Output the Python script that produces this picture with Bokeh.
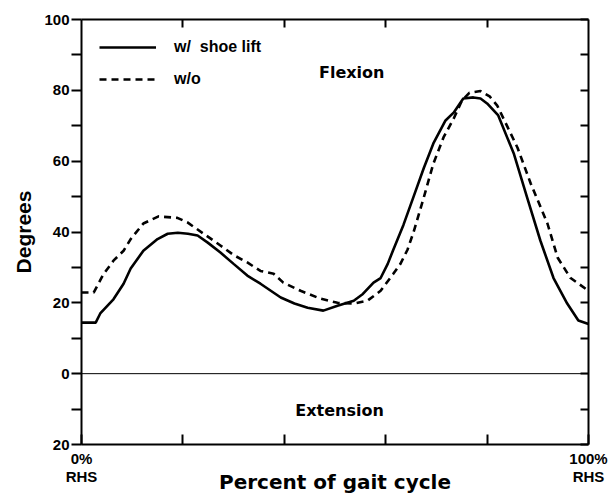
from bokeh.plotting import figure
from bokeh.models import Range1d, LinearAxis, FixedTicker, Span, Label
from bokeh.embed import file_html
from bokeh.resources import INLINE

# ---- data ----
with_x = [0, 2.8, 3.7, 6.3, 8.3, 9.7, 12.2, 15, 17, 19, 21, 22.9, 24.9, 27.4, 30,
          32.7, 35.3, 39.3, 42, 44.6, 47.7, 50.5, 53.7, 55.5, 57.6, 59, 60.4, 61.5,
          63.5, 65.5, 67.5, 69.4, 71.8, 73.4, 75.3, 77.3, 78.7, 80, 82.2, 85.3, 87.9,
          90.5, 93.1, 95.8, 98, 100]
with_y = [14.4, 14.4, 17, 21, 25.4, 29.7, 34.7, 38, 39.5, 39.8, 39.5, 39, 37, 34.2, 31,
          27.7, 25.4, 21.5, 19.8, 18.6, 17.8, 19.2, 20.6, 22.5, 25.7, 27, 31, 35,
          42, 50, 58, 65, 71.5, 73.7, 77.7, 78, 77.7, 76.3, 72.9, 62, 49.7,
          37.6, 27, 19.8, 15, 14]

without_x = [0, 2.4, 4.3, 6.3, 8.3, 9.7, 12.2, 15.2, 18.9, 20.9, 24.1, 27.4, 30, 32.7,
             35.3, 37.9, 39.8, 43.2, 47.1, 50.5, 53.7, 56.4, 59, 61.5, 62.9, 64.3, 65.5,
             67.5, 69.4, 71.4, 73.4, 75, 76.5, 78.7, 80.5, 82, 86, 88.6, 91.9, 93.9,
             96.4, 100]
without_y = [22.9, 22.9, 28, 31.9, 34.7, 38, 42.4, 44.4, 44, 42.7, 39.5, 36.2, 33.5, 31.4,
             29, 28.2, 25.7, 23.4, 21.2, 20, 19.8, 20.6, 23.4, 28.2, 31, 35, 40,
             49.7, 59.3, 66.7, 72, 77, 79.3, 79.8, 78.3, 75.7, 63.8, 53.7, 42.4, 32.8,
             27.1, 23.4]

series_names = ["w/  shoe lift", "w/o"]

x_ticks = [0, 20, 40, 60, 80, 100]
x_tick_labels = {0: "0%\nRHS", 100: "100%\nRHS"}
top_ticks = [20, 40, 60, 80]
y_ticks = [-20, -10, 0, 10, 20, 30, 40, 50, 60, 70, 80, 90, 100]
y_tick_labels = {-20: "20", 0: "0", 20: "20", 40: "40", 60: "60", 80: "80", 100: "100"}

region_names = ["Flexion", "Extension"]
x_title = "Percent of gait cycle"
y_title = "Degrees"

FONT = "Liberation Sans"
WIDE = "DejaVu Sans"

p = figure(width=608, height=497, x_range=Range1d(0, 100), y_range=Range1d(-20, 100),
           output_backend="svg", toolbar_location=None,
           min_border_left=81, min_border_right=20, min_border_top=19, min_border_bottom=53)
p.grid.visible = False
p.outline_line_color = None
p.background_fill_color = "white"
p.border_fill_color = "white"

# bottom axis
xa = p.xaxis[0]
xa.ticker = FixedTicker(ticks=x_ticks)
xa.major_label_overrides = {t: x_tick_labels.get(t, "") for t in x_ticks}
xa.major_tick_in = 10
xa.major_tick_out = 0
xa.minor_tick_line_color = None
xa.axis_line_width = 2
xa.major_tick_line_width = 2
xa.major_label_standoff = 5
xa.major_label_text_line_height = 1.1
xa.major_label_text_font = FONT
xa.major_label_text_font_style = "bold"
xa.major_label_text_font_size = "15px"
xa.major_label_text_color = "black"
xa.axis_label = x_title
xa.axis_label_text_font = WIDE
xa.axis_label_text_font_style = "bold"
xa.axis_label_text_font_size = "20px"
xa.axis_label_text_color = "black"
xa.axis_label_standoff = -18

# left axis
ya = p.yaxis[0]
ya.ticker = FixedTicker(ticks=y_ticks)
ya.major_label_overrides = {t: y_tick_labels.get(t, "") for t in y_ticks}
ya.major_tick_in = 0
ya.major_tick_out = 10
ya.minor_tick_line_color = None
ya.axis_line_width = 2
ya.major_tick_line_width = 2
ya.major_label_standoff = 2
ya.major_label_text_font = FONT
ya.major_label_text_font_style = "bold"
ya.major_label_text_font_size = "15px"
ya.major_label_text_color = "black"
ya.axis_label = y_title
ya.axis_label_text_font = FONT
ya.axis_label_text_font_style = "bold"
ya.axis_label_text_font_size = "21px"
ya.axis_label_text_color = "black"
ya.axis_label_standoff = 6

# right axis
ra = LinearAxis(ticker=FixedTicker(ticks=y_ticks), major_tick_in=8, major_tick_out=0,
                minor_tick_line_color=None, axis_line_width=2, major_tick_line_width=2,
                major_label_text_font_size="0px", major_label_text_color=None)
p.add_layout(ra, "right")

# top axis
ta = LinearAxis(ticker=FixedTicker(ticks=top_ticks), major_tick_in=8, major_tick_out=0,
                minor_tick_line_color=None, axis_line_width=2, major_tick_line_width=2,
                major_label_text_font_size="0px", major_label_text_color=None)
p.add_layout(ta, "above")

# zero line
p.add_layout(Span(location=0, dimension="width", line_color="black", line_width=1))

# curves
p.line(with_x, with_y, line_color="black", line_width=2.6, legend_label=series_names[0])
p.line(without_x, without_y, line_color="black", line_width=2.6, line_dash="7 5",
       legend_label=series_names[1])

lg = p.legend[0]
lg.location = "top_left"
lg.margin = 18
lg.padding = 8
lg.spacing = 12
lg.glyph_width = 57
lg.glyph_height = 20
lg.label_height = 20
lg.label_standoff = 18
lg.border_line_color = None
lg.background_fill_alpha = 0
lg.label_text_font = FONT
lg.label_text_font_style = "bold"
lg.label_text_font_size = "16px"
lg.label_text_color = "black"

# region labels
p.add_layout(Label(x=53.3, y=85, text=region_names[0], text_align="center",
                   text_baseline="middle", text_font=WIDE, text_font_style="bold",
                   text_font_size="16px", text_color="black"))
p.add_layout(Label(x=50.9, y=-10.4, text=region_names[1], text_align="center",
                   text_baseline="middle", text_font=WIDE, text_font_style="bold",
                   text_font_size="16px", text_color="black"))

open("out.html", "w").write(file_html(p, INLINE))
